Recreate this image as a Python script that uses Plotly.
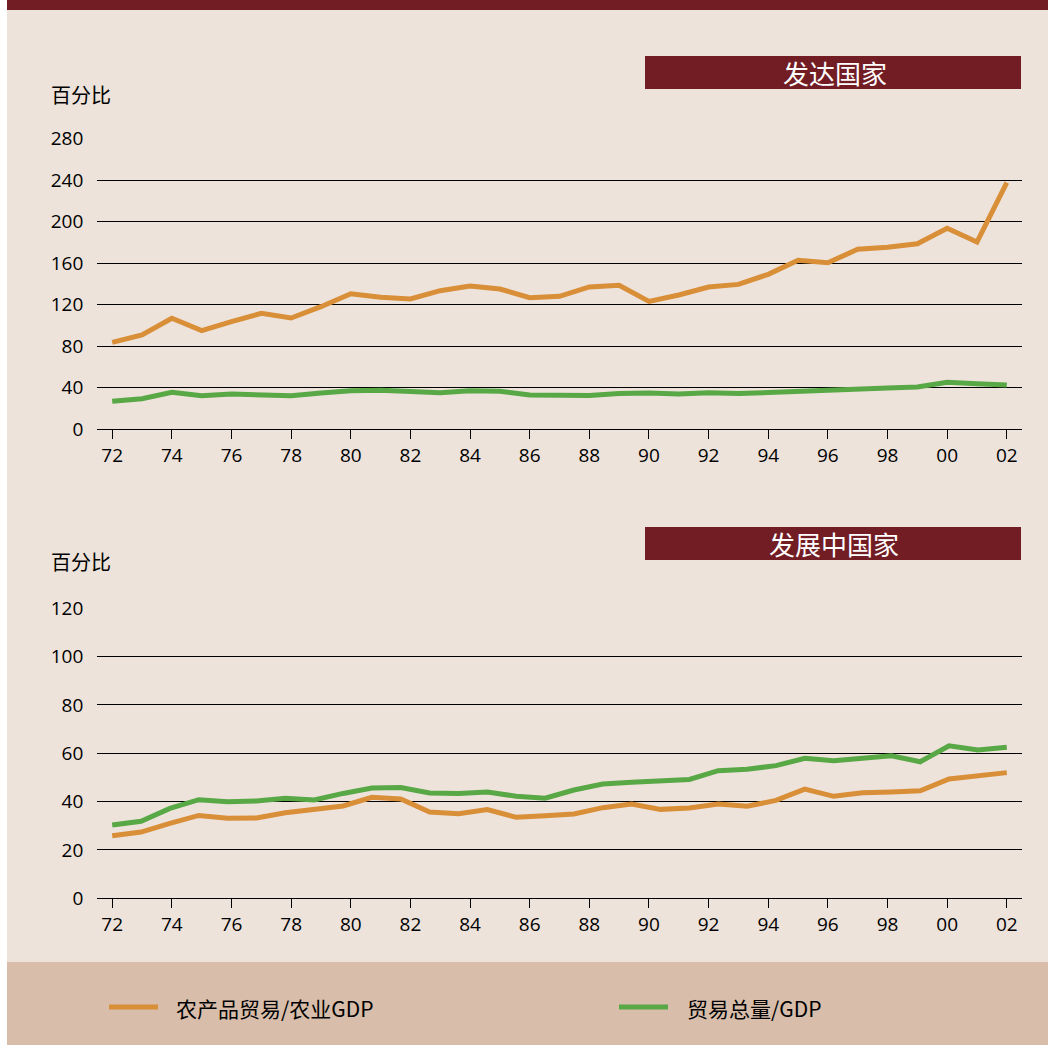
import plotly.graph_objects as go

# top panel (developed countries), one point per year 1972-2002
years = list(range(1972, 2003))
dev_agri = [83.5, 90.6, 106.7, 94.8, 103.5, 111.5, 107.0, 117.9, 130.4, 126.9, 125.3,
            133.3, 137.8, 134.9, 126.6, 127.9, 136.9, 138.5, 123.0, 129.2, 136.9, 139.4,
            149.1, 162.6, 160.3, 173.2, 175.1, 178.6, 193.4, 180.2, 237.4]
dev_total = [26.7, 29.2, 35.3, 32.1, 33.7, 33.4, 32.1, 34.7, 36.9, 37.3, 36.3,
             35.0, 36.9, 36.3, 32.8, 32.4, 32.4, 34.1, 34.7, 33.7, 35.0, 34.1,
             35.3, 36.9, 37.6, 39.5, 39.5, 40.5, 45.0, 43.7, 42.4]

# bottom panel (developing countries), 32 evenly spaced observations over the same span
dvg_idx = list(range(32))
dvg_agri = [25.9, 27.4, 31.0, 34.3, 33.1, 33.2, 35.4, 36.8, 38.2, 41.8, 41.1, 35.7,
            35.0, 36.7, 33.5, 34.2, 34.9, 37.5, 39.0, 36.8, 37.4, 39.0, 38.1, 40.5,
            45.2, 42.2, 43.7, 44.0, 44.5, 49.4, 50.7, 52.0]
dvg_total = [30.3, 31.9, 37.2, 40.8, 40.0, 40.3, 41.4, 40.7, 43.4, 45.6, 45.8, 43.6,
             43.4, 44.0, 42.2, 41.4, 44.8, 47.3, 48.0, 48.4, 49.2, 52.8, 53.4, 54.9,
             57.9, 56.9, 58.2, 59.0, 56.5, 63.1, 61.4, 62.5]

tick_years = years[::2]
tick_text = ["%02d" % (y % 100) for y in tick_years]

series_names = ["农产品贸易/农业GDP", "贸易总量/GDP"]
panel_titles = ["发达国家", "发展中国家"]

ORANGE = "#D98E38"
GREEN = "#58A846"
DARK = "#721C24"
BG = "#EDE3DB"
BAND = "#D7BDAA"
NUM_FONT = "Open Sans"
CJK = "Noto Sans CJK SC"

W, H = 1048, 1045
x0, x1 = 97.3 / W, 1021.7 / W
xr = [1971.5, 2002.5]

# bottom panel: 32 observations stretched over the 1972-2002 tick span
to_idx = lambda yr: (yr - 1972) * 31 / 30
idx_r = [to_idx(xr[0]), to_idx(xr[1])]

fig = go.Figure()
fig.add_trace(go.Scatter(x=years, y=dev_agri, mode="lines", name=series_names[0],
                         line=dict(color=ORANGE, width=5), xaxis="x", yaxis="y"))
fig.add_trace(go.Scatter(x=years, y=dev_total, mode="lines", name=series_names[1],
                         line=dict(color=GREEN, width=5), xaxis="x", yaxis="y"))
fig.add_trace(go.Scatter(x=dvg_idx, y=dvg_total, mode="lines", name=series_names[1],
                         line=dict(color=GREEN, width=5), xaxis="x2", yaxis="y2"))
fig.add_trace(go.Scatter(x=dvg_idx, y=dvg_agri, mode="lines", name=series_names[0],
                         line=dict(color=ORANGE, width=5), xaxis="x2", yaxis="y2"))

xstyle = dict(domain=[x0, x1], tickmode="array", ticktext=tick_text, ticks="outside",
              ticklen=9, tickwidth=1, tickcolor="black", showgrid=False, zeroline=False,
              showline=True, linecolor="black", linewidth=1,
              tickfont=dict(family=NUM_FONT, size=19, color="black"))
ystyle = dict(showgrid=True, gridcolor="black", gridwidth=1, zeroline=False,
              showline=False, ticks="", ticklabelstandoff=13,
              tickfont=dict(family=NUM_FONT, size=19, color="black"))

fig.update_layout(
    width=W, height=H, margin=dict(l=0, r=0, t=0, b=0, autoexpand=False),
    paper_bgcolor=BG, plot_bgcolor=BG, showlegend=False,
    xaxis=dict(anchor="y", range=xr, tickvals=tick_years, **xstyle),
    yaxis=dict(anchor="x", domain=[1 - 429 / H, 1 - 138.5 / H], range=[0, 280], dtick=40, **ystyle),
    xaxis2=dict(anchor="y2", range=idx_r, tickvals=[to_idx(y) for y in tick_years], **xstyle),
    yaxis2=dict(anchor="x2", domain=[1 - 898.3 / H, 1 - 608.3 / H], range=[0, 120], dtick=20, **ystyle),
)

def px(x):
    return x / W

def py(y):
    return 1 - y / H

shapes = [
    dict(type="rect", x0=px(7), x1=1, y0=py(10), y1=1, fillcolor=DARK, layer="below"),
    dict(type="rect", x0=px(7), x1=1, y0=0, y1=py(962), fillcolor=BAND, layer="below"),
    dict(type="rect", x0=0, x1=px(7), y0=0, y1=1, fillcolor="white", layer="below"),
    dict(type="rect", x0=px(645), x1=px(1021), y0=py(89), y1=py(56), fillcolor=DARK),
    dict(type="rect", x0=px(645), x1=px(1021), y0=py(560), y1=py(527), fillcolor=DARK),
    # legend keys
    dict(type="line", x0=px(109), x1=px(158), y0=py(1007), y1=py(1007),
         line=dict(color=ORANGE, width=5)),
    dict(type="line", x0=px(619), x1=px(668), y0=py(1007), y1=py(1007),
         line=dict(color=GREEN, width=5)),
]
for s in shapes:
    s.update(xref="paper", yref="paper")
    if s["type"] == "rect":
        s["line_width"] = 0
fig.update_layout(shapes=shapes)

for text, xc, yc in [(panel_titles[0], 835, 73), (panel_titles[1], 834, 543)]:
    fig.add_annotation(text=text, xref="paper", yref="paper", x=px(xc), y=py(yc),
                       xanchor="center", yanchor="middle", showarrow=False,
                       font=dict(family=CJK, size=26, color="white"))
for yy in (94, 561):
    fig.add_annotation(text="百分比", xref="paper", yref="paper", x=px(49), y=py(yy),
                       xanchor="left", yanchor="middle", showarrow=False,
                       font=dict(family=CJK, size=20, color="black"))
for text, xl in [(series_names[0], 174), (series_names[1], 685)]:
    fig.add_annotation(text=text, xref="paper", yref="paper", x=px(xl), y=py(1008),
                       xanchor="left", yanchor="middle", showarrow=False,
                       font=dict(family=CJK, size=21, color="black"))

fig.write_html("out.html", config={"displayModeBar": False},
               post_script="document.body.style.margin='0';")
